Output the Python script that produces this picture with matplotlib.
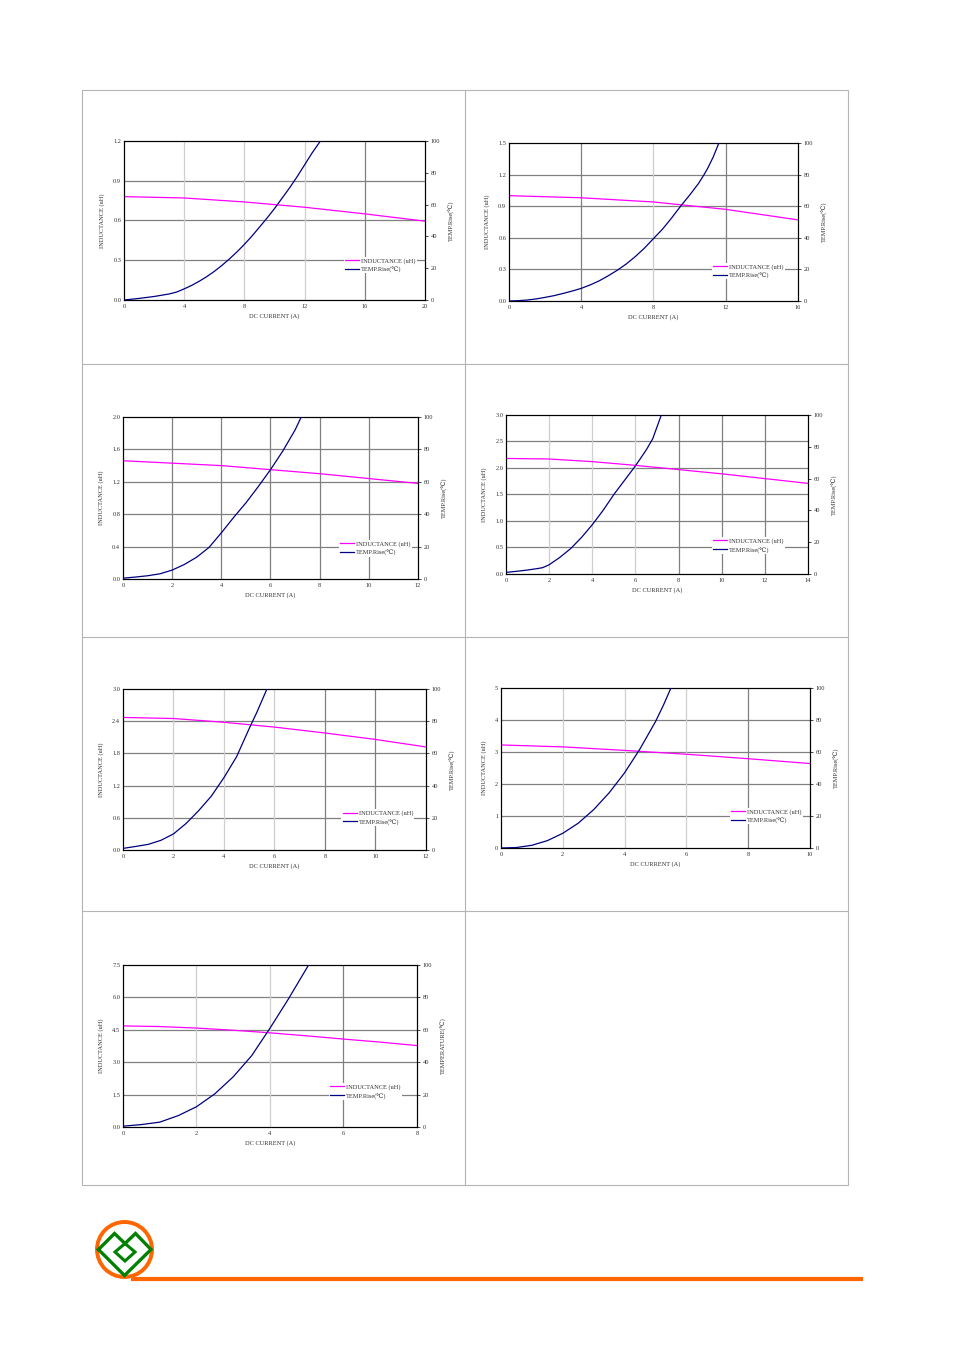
import matplotlib
matplotlib.use("Agg")
import matplotlib.pyplot as plt
from matplotlib.patches import Rectangle, Circle

plt.rcParams['font.family'] = ['Liberation Serif', 'DejaVu Serif']

# --- data (DC current in A) ---
cur1 = [0, 4, 8, 12, 16, 20]
ind1 = [0.78, 0.77, 0.74, 0.70, 0.65, 0.595]
tcur1 = [0, 1, 2, 3, 3.5, 4, 4.5, 5, 5.5, 6, 6.5, 7, 7.5, 8, 8.5, 9, 9.5,
         10, 10.5, 11, 11.5, 12, 12.5, 13.05]
temp1 = [0, 1, 2.2, 3.8, 5, 7, 9.2, 11.8, 14.7, 18, 21.7, 25.8, 30.2, 35,
         40.2, 45.8, 51.5, 57.5, 64, 70.5, 77.5, 85, 92.5, 100]

cur2 = [0, 4, 8, 12, 16]
ind2 = [1.0, 0.98, 0.94, 0.87, 0.77]
tcur2 = [0, 0.5, 1, 1.5, 2, 2.5, 3, 3.5, 4, 4.5, 5, 5.5, 6, 6.5, 7, 7.5, 8,
         8.5, 9, 9.5, 10, 10.5, 10.8, 11, 11.3, 11.62]
temp2 = [0, 0.2, 0.6, 1.3, 2.3, 3.4, 4.8, 6.3, 8, 10.2, 12.8, 16, 19.5, 23.5,
         28.2, 33.5, 39.5, 45.5, 52.5, 60, 67, 74.5, 80, 84, 91, 100]

cur3 = [0, 2, 4, 6, 8, 10, 12]
ind3 = [1.46, 1.43, 1.40, 1.35, 1.30, 1.24, 1.18]
tcur3 = [0, 0.5, 1, 1.5, 2, 2.5, 3, 3.5, 4, 4.5, 5, 5.5, 6, 6.5, 7, 7.25]
temp3 = [0.5, 1.2, 2, 3.2, 5.5, 9, 13.5, 19.5, 28.5, 38, 47, 57, 67.5, 79, 92, 100]

cur4 = [0, 2, 4, 6, 8, 10, 12, 14]
ind4 = [2.18, 2.17, 2.12, 2.05, 1.97, 1.89, 1.80, 1.71]
tcur4 = [0, 0.5, 1, 1.5, 1.7, 2, 2.5, 3, 3.5, 4, 4.5, 5, 5.5, 6, 6.5, 6.8, 7.2]
temp4 = [1, 1.7, 2.5, 3.5, 4, 5.8, 10.5, 16, 23, 31, 40, 50, 59, 68, 78, 85, 100]

cur5 = [0, 2, 4, 6, 8, 10, 12]
ind5 = [2.47, 2.45, 2.38, 2.29, 2.18, 2.06, 1.92]
tcur5 = [0, 0.5, 1, 1.5, 2, 2.5, 3, 3.5, 4, 4.5, 5, 5.3, 5.7]
temp5 = [1, 2.2, 3.5, 6, 10, 16.5, 24.5, 33.5, 45, 58, 75.5, 85.5, 100]

cur6 = [0, 2, 4, 6, 8, 10]
ind6 = [3.22, 3.16, 3.05, 2.93, 2.79, 2.64]
tcur6 = [0, 0.5, 1, 1.5, 2, 2.5, 3, 3.5, 4, 4.5, 5, 5.25, 5.5]
temp6 = [0, 0.3, 1.7, 4.6, 9.2, 15.5, 24, 34.5, 47, 62, 79, 89, 100]

cur7 = [0, 1, 2, 3, 4, 5, 6, 7, 8]
ind7 = [4.68, 4.65, 4.58, 4.48, 4.36, 4.22, 4.07, 3.93, 3.77]
tcur7 = [0, 0.5, 1, 1.5, 2, 2.5, 3, 3.5, 4, 4.5, 5.05]
temp7 = [0.5, 1.5, 3, 7, 12.5, 20.5, 31, 44, 61, 79, 100]

ind_label = 'INDUCTANCE (uH)'
temp_label = 'TEMP.Rise(\u2103)'
x_label = 'DC CURRENT (A)'

panels = [
    dict(cur=cur1, ind=ind1, tcur=tcur1, temp=temp1, xmax=20, xstep=4, ymax=1.2, ystep=0.3, yfmt='%.1f', rlabel=temp_label),
    dict(cur=cur2, ind=ind2, tcur=tcur2, temp=temp2, xmax=16, xstep=4, ymax=1.5, ystep=0.3, yfmt='%.1f', rlabel=temp_label),
    dict(cur=cur3, ind=ind3, tcur=tcur3, temp=temp3, xmax=12, xstep=2, ymax=2.0, ystep=0.4, yfmt='%.1f', rlabel=temp_label),
    dict(cur=cur4, ind=ind4, tcur=tcur4, temp=temp4, xmax=14, xstep=2, ymax=3.0, ystep=0.5, yfmt='%.1f', rlabel=temp_label),
    dict(cur=cur5, ind=ind5, tcur=tcur5, temp=temp5, xmax=12, xstep=2, ymax=3.0, ystep=0.6, yfmt='%.1f', rlabel=temp_label),
    dict(cur=cur6, ind=ind6, tcur=tcur6, temp=temp6, xmax=10, xstep=2, ymax=5, ystep=1, yfmt='%d', rlabel=temp_label),
    dict(cur=cur7, ind=ind7, tcur=tcur7, temp=temp7, xmax=8, xstep=2, ymax=7.5, ystep=1.5, yfmt='%.1f', rlabel='TEMPERATURE(\u2103)'),
]

# layout in pixels: left, top, right, bottom of each plot area
boxes = [
    (124, 141, 425, 300), (509, 143, 798, 301),
    (123, 417, 418, 579), (506, 415, 808, 574),
    (123, 689, 426, 850), (501, 688, 810, 848),
    (123, 965, 417, 1127),
]
# shade of each inner vertical gridline: L = light, D = dark
vgrid_shade = ['LLLD', 'DLD', 'DDDDD', 'LLLDDD', 'LLLDD', 'LLLD', 'LLD']
leg_pos = [(0.72, 0.22), (0.69, 0.19), (0.72, 0.19), (0.67, 0.18),
           (0.71, 0.20), (0.73, 0.20), (0.69, 0.22)]

W, H = 954, 1351
fig = plt.figure(figsize=(W / 100, H / 100), dpi=100)

# page decoration in pixel coordinates
bg = fig.add_axes([0, 0, 1, 1])
bg.set_xlim(0, W)
bg.set_ylim(H, 0)
bg.axis('off')
frame_col = '#b4b4b4'
bg.add_patch(Rectangle((82, 90), 766, 1095, fill=False, ec=frame_col, lw=0.8))
bg.plot([465, 465], [90, 1185], color=frame_col, lw=0.8)
for yy in [364, 637, 911]:
    bg.plot([82, 848], [yy, yy], color=frame_col, lw=0.8)

# logo
bg.plot([131, 863], [1278.5, 1278.5], color='#ff6600', lw=3, solid_capstyle='butt')
bg.add_patch(Circle((124.5, 1249.5), 27.5, fill=False, ec='#ff6600', lw=2.8))
bg.plot([98.5, 114.5, 125, 135.5, 151, 124.5, 98.5],
        [1249.5, 1233.5, 1243.5, 1233.5, 1249.5, 1275.5, 1249.5],
        color='#008000', lw=2.4, solid_joinstyle='miter')
bg.plot([125, 135, 125, 115, 125], [1243.5, 1252, 1261, 1252, 1243.5],
        color='#008000', lw=2.2, solid_joinstyle='miter')

fs = 4.6
tcol = '#333333'
for p, (l, t, r, b), shades, lp in zip(panels, boxes, vgrid_shade, leg_pos):
    ax = fig.add_axes([l / W, 1 - b / H, (r - l) / W, (b - t) / H])
    ax2 = ax.twinx()
    ax.set_xlim(0, p['xmax'])
    ax.set_ylim(0, p['ymax'])
    ax2.set_ylim(0, 100)
    xt = list(range(0, p['xmax'] + 1, p['xstep']))
    nyt = int(round(p['ymax'] / p['ystep']))
    yt = [i * p['ystep'] for i in range(nyt + 1)]
    ax.set_xticks(xt)
    ax.set_yticks(yt)
    ax.set_yticklabels([p['yfmt'] % v for v in yt])
    ax2.set_yticks(range(0, 101, 20))
    for v in yt[1:-1]:
        ax.axhline(v, color='#808080', lw=0.9, zorder=0.5)
    for v, sh in zip(xt[1:-1], shades):
        c = '#cfcfcf' if sh == 'L' else '#808080'
        ax.axvline(v, color=c, lw=0.9, zorder=0.5)
    for a in (ax, ax2):
        for s in a.spines.values():
            s.set_linewidth(0.8)
            s.set_color('black')
        a.tick_params(labelsize=fs, labelcolor=tcol, length=2, width=0.5, pad=2)
    ax.tick_params(axis='y', length=0)
    ax.tick_params(axis='x', length=0, pad=3)
    l1, = ax.plot(p['cur'], p['ind'], color='#ff00ff', lw=0.9, zorder=3)
    l2, = ax2.plot(p['tcur'], p['temp'], color='#000080', lw=0.9, zorder=3)
    ax.set_xlabel(x_label, fontsize=fs, color=tcol, labelpad=3)
    ax.set_ylabel(ind_label, fontsize=fs, color=tcol, labelpad=6)
    ax2.set_ylabel(p['rlabel'], fontsize=fs, color=tcol, labelpad=6)
    leg = ax2.legend([l1, l2], [ind_label, temp_label], loc='center left',
                     bbox_to_anchor=lp, fontsize=fs, frameon=True, framealpha=1,
                     edgecolor='none', facecolor='white', handlelength=2.2,
                     handletextpad=0.3, borderpad=0.2, labelspacing=0.4,
                     fancybox=False)
    for txt in leg.get_texts():
        txt.set_color(tcol)

fig.savefig('out.png', dpi=100)
